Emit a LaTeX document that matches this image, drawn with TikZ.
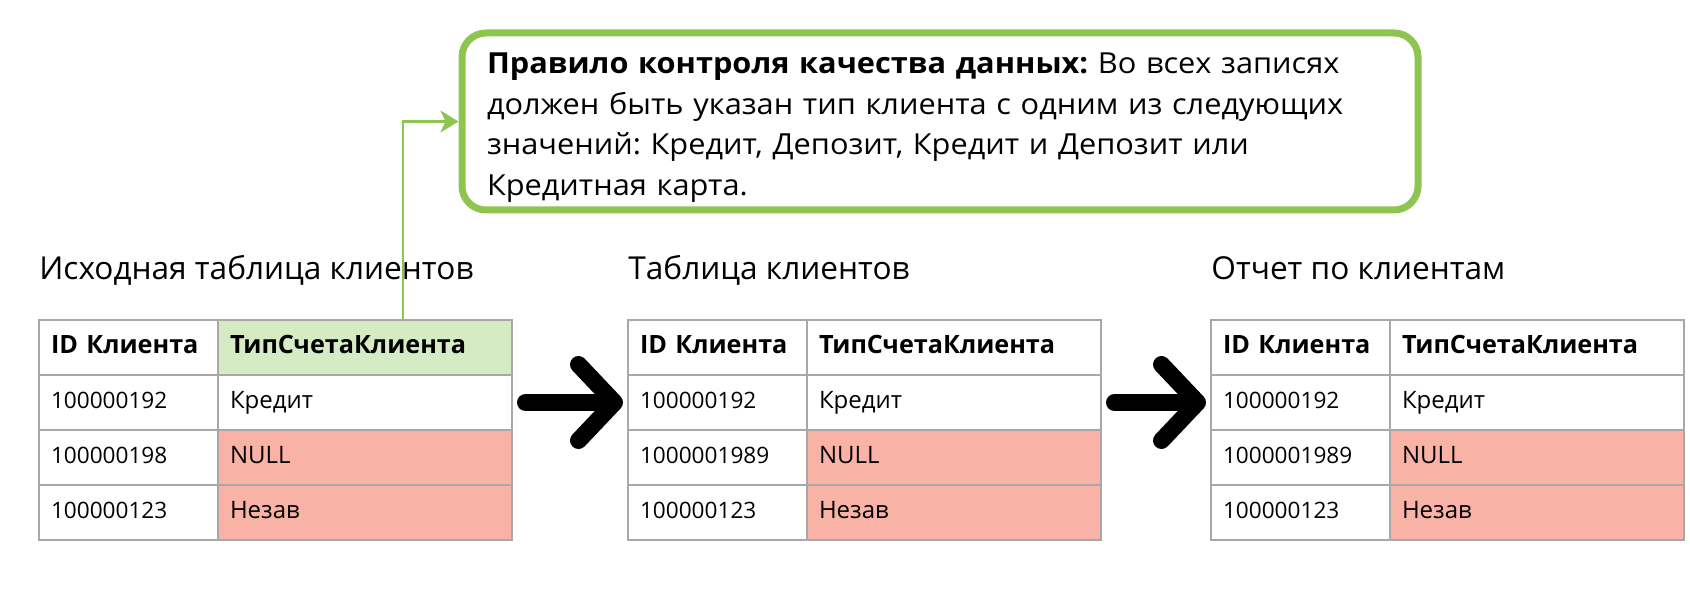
\documentclass[tikz,border=0pt]{standalone}
\usepackage{fontspec}
\setmainfont{Open Sans}
\newfontfamily\rulefont{Open Sans}[FakeStretch=1.06]
\usepackage{tikz}
\usetikzlibrary{arrows.meta}
\usetikzlibrary{positioning}

\definecolor{rulegreen}{HTML}{8DC550}
\definecolor{hdrgreen}{HTML}{D5EBC3}
\definecolor{nullred}{HTML}{F8B2A6}
\definecolor{gridgray}{HTML}{A8A8A8}

\frenchspacing
\begin{document}
\begin{tikzpicture}[
    x=0.5pt, y=-0.5pt,
    node distance = 0pt,
every node/.style = {inner sep=2pt},
    cell/.style = {draw=gridgray, line width=1.2pt, outer sep=0pt,
                   minimum height=27.5pt, inner xsep=6pt, align=left,
                   text height=9pt, text depth=3pt,
                   font=\fontsize{12}{14}\selectfont},
  idcell/.style = {cell, text width=77.5pt},
typecell/.style = {cell, text width=135pt},
    head/.style = {font=\fontsize{12.6}{14}\selectfont\bfseries},
     num/.style = {font=\fontsize{11.3}{14}\selectfont},
     bad/.style = {fill=nullred},
   title/.style = {font=\fontsize{15.8}{18}\selectfont, inner sep=0pt},
 rulebox/.style = {draw=rulegreen, line width=3.5pt, outer sep=0pt,
                   rounded corners=12pt, text width=453pt, inner xsep=12.5pt,
                   minimum height=88.5pt, align=left,
                   font=\rulefont\fontsize{14.5}{20.3}\selectfont},
    link/.style = {draw=rulegreen, line width=1.3pt, shorten >=1.75pt,
                   -{Stealth[length=9pt,width=11pt,inset=2.5pt]}},
bigarrow/.style = {line width=8.5pt, line cap=round, line join=round,
                   -{Straight Barb[round,length=18pt,width=38pt]},
                   shorten <=6.75pt, shorten >=2.5pt}]
\useasboundingbox (0,0) rectangle (1690,592);

% quality rule
\node[rulebox, anchor=north west] (rule) at (462,33)
  {\rule{0pt}{16.5pt}\textbf{Правило контроля качества данных:} Во всех записях\\
   должен быть указан тип клиента с одним из следующих\\
   значений: Кредит, Депозит, Кредит и Депозит или\\
   Кредитная карта.};

% source table
\node[idcell, head, anchor=north west] (a0) at (39,320) {ID Клиента};
\node[typecell, head, fill=hdrgreen, right=of a0] (a0t) {ТипСчетаКлиента};
\node[idcell, num, below=of a0]   (a1)  {100000192};
\node[typecell, right=of a1]      (a1t) {Кредит};
\node[idcell, num, below=of a1]   (a2)  {100000198};
\node[typecell, bad, right=of a2] (a2t) {NULL};
\node[idcell, num, below=of a2]   (a3)  {100000123};
\node[typecell, bad, right=of a3] (a3t) {Незав};
\node[title, above=20pt of a0.north west, anchor=base west] (ta)
  {Исходная таблица клиентов};

% customer table
\node[idcell, head, anchor=north west] (b0) at (628,320) {ID Клиента};
\node[typecell, head, right=of b0] (b0t) {ТипСчетаКлиента};
\node[idcell, num, below=of b0]   (b1)  {100000192};
\node[typecell, right=of b1]      (b1t) {Кредит};
\node[idcell, num, below=of b1]   (b2)  {1000001989};
\node[typecell, bad, right=of b2] (b2t) {NULL};
\node[idcell, num, below=of b2]   (b3)  {100000123};
\node[typecell, bad, right=of b3] (b3t) {Незав};
\node[title, above=20pt of b0.north west, anchor=base west] (tb)
  {Таблица клиентов};

% report
\node[idcell, head, anchor=north west] (c0) at (1211,320) {ID Клиента};
\node[typecell, head, right=of c0] (c0t) {ТипСчетаКлиента};
\node[idcell, num, below=of c0]   (c1)  {100000192};
\node[typecell, right=of c1]      (c1t) {Кредит};
\node[idcell, num, below=of c1]   (c2)  {1000001989};
\node[typecell, bad, right=of c2] (c2t) {NULL};
\node[idcell, num, below=of c2]   (c3)  {100000123};
\node[typecell, bad, right=of c3] (c3t) {Незав};
\node[title, above=20pt of c0.north west, anchor=base west] (tc)
  {Отчет по клиентам};

% arrows
\coordinate (g) at (403,320);
\draw[link] (g) |- (rule.west);
\draw[bigarrow] (a1t.east) -- (b1.west);
\draw[bigarrow] (b1t.east) -- (c1.west);
\end{tikzpicture}
\end{document}
